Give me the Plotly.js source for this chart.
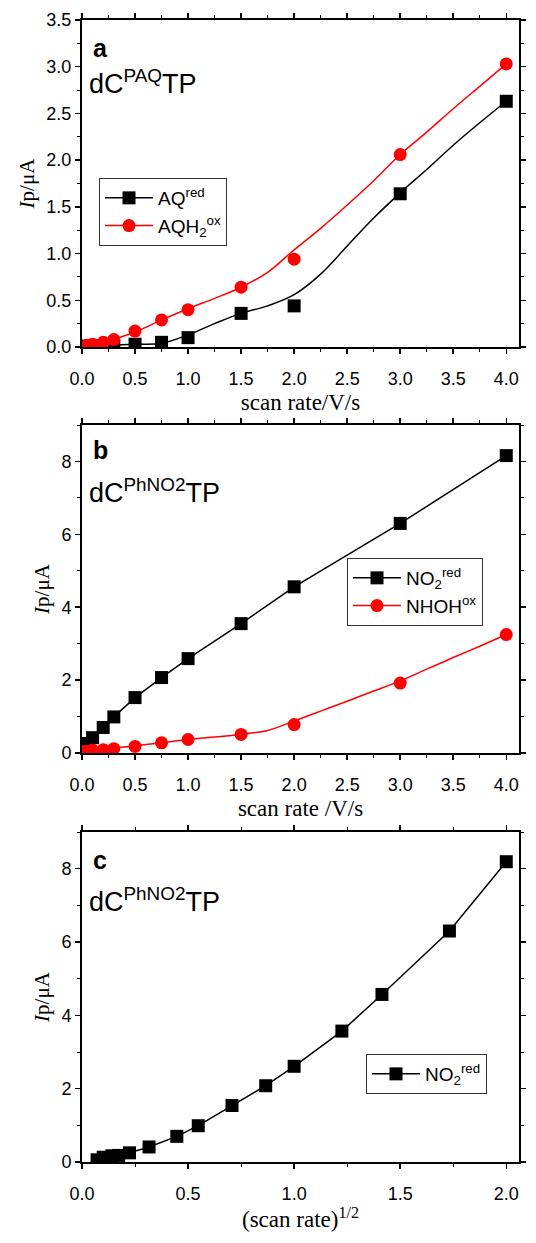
<!DOCTYPE html>
<html><head><meta charset="utf-8">
<script src="https://cdn.plot.ly/plotly-3.0.1.min.js"></script>
<style>html,body{margin:0;padding:0;background:#fff}</style>
</head><body>
<div id="chart" style="width:536px;height:1243px"></div>
<script>
// ---- Panel a data ----
const aScan = [0.05, 0.1, 0.2, 0.3, 0.5, 0.75, 1.0, 1.5, 2.0, 3.0, 4.0];
const aAQred = [0.01, 0.01, 0.01, 0.01, 0.03, 0.05, 0.10, 0.36, 0.44, 1.64, 2.63];
const aAQH2ox = [0.02, 0.03, 0.05, 0.08, 0.17, 0.29, 0.40, 0.64, 0.94, 2.06, 3.03];
const aFitX = [0, 0.25, 0.5, 0.75, 1.0, 1.25, 1.5, 1.75, 2.0, 2.25, 2.5, 2.75, 3.0, 3.25, 3.5, 3.75, 4.0];
const aFitRed = [0.01, 0.02, 0.03, 0.04, 0.13, 0.25, 0.36, 0.44, 0.56, 0.78, 1.08, 1.38, 1.65, 1.90, 2.16, 2.40, 2.63];
const aFitOx = [0.03, 0.07, 0.16, 0.29, 0.41, 0.52, 0.64, 0.80, 1.04, 1.27, 1.52, 1.78, 2.06, 2.30, 2.55, 2.79, 3.03];

// ---- Panel b data ----
const bScan = [0.005, 0.01, 0.02, 0.03, 0.05, 0.1, 0.2, 0.3, 0.5, 0.75, 1.0, 1.5, 2.0, 3.0, 4.0];
const bNO2red = [0.06, 0.13, 0.17, 0.18, 0.26, 0.42, 0.70, 0.99, 1.52, 2.07, 2.59, 3.55, 4.56, 6.30, 8.16];
const bScanOx = [0.01, 0.05, 0.1, 0.2, 0.3, 0.5, 0.75, 1.0, 1.5, 2.0, 3.0, 4.0];
const bNHOHox = [0.04, 0.05, 0.08, 0.09, 0.12, 0.18, 0.28, 0.37, 0.51, 0.78, 1.92, 3.25];
const bFitX = [0, 0.25, 0.5, 0.75, 1.0, 1.25, 1.5, 1.75, 2.0, 2.25, 2.5, 2.75, 3.0, 3.25, 3.5, 3.75, 4.0];
const bFitOx = [0.06, 0.12, 0.20, 0.28, 0.37, 0.44, 0.51, 0.62, 0.88, 1.15, 1.42, 1.70, 1.98, 2.30, 2.62, 2.93, 3.25];

// ---- Panel c data ----
const cSqrtScan = [0.071, 0.1, 0.141, 0.173, 0.224, 0.316, 0.447, 0.548, 0.707, 0.866, 1.0, 1.225, 1.414, 1.732, 2.0];
const cNO2red = [0.06, 0.13, 0.17, 0.18, 0.25, 0.41, 0.70, 0.99, 1.54, 2.08, 2.61, 3.57, 4.57, 6.30, 8.19];

const BLACK = '#000000', RED = '#ff0000';
const sq = {symbol: 'square', size: 13, color: BLACK};
const ci = {symbol: 'circle', size: 13, color: RED};
const lnK = {color: BLACK, width: 1.5};
const lnR = {color: RED, width: 1.5};

const traces = [
  // panel a
  {x: aFitX, y: aFitRed, xaxis: 'x', yaxis: 'y', mode: 'lines', line: Object.assign({shape: 'spline'}, lnK), showlegend: false},
  {x: aFitX, y: aFitOx, xaxis: 'x', yaxis: 'y', mode: 'lines', line: Object.assign({shape: 'spline'}, lnR), showlegend: false},
  {x: aScan, y: aAQred, xaxis: 'x', yaxis: 'y', mode: 'markers', marker: sq, showlegend: false},
  {x: aScan, y: aAQH2ox, xaxis: 'x', yaxis: 'y', mode: 'markers', marker: ci, showlegend: false},
  {x: [null], y: [null], xaxis: 'x', yaxis: 'y', mode: 'lines+markers', marker: sq, line: lnK, name: 'AQ<sup>red</sup>', legend: 'legend'},
  {x: [null], y: [null], xaxis: 'x', yaxis: 'y', mode: 'lines+markers', marker: ci, line: lnR, name: 'AQH<sub>2</sub><sup>ox</sup>', legend: 'legend'},
  // panel b
  {x: bScan, y: bNO2red, xaxis: 'x2', yaxis: 'y2', mode: 'lines+markers', marker: sq, line: lnK, name: 'NO<sub>2</sub><sup>red</sup>', legend: 'legend2'},
  {x: bFitX, y: bFitOx, xaxis: 'x2', yaxis: 'y2', mode: 'lines', line: Object.assign({shape: 'spline'}, lnR), showlegend: false},
  {x: bScanOx, y: bNHOHox, xaxis: 'x2', yaxis: 'y2', mode: 'markers', marker: ci, showlegend: false},
  {x: [null], y: [null], xaxis: 'x2', yaxis: 'y2', mode: 'lines+markers', marker: ci, line: lnR, name: 'NHOH<sup>ox</sup>', legend: 'legend2'},
  // panel c
  {x: cSqrtScan, y: cNO2red, xaxis: 'x3', yaxis: 'y3', mode: 'lines+markers', marker: sq, line: lnK, name: 'NO<sub>2</sub><sup>red</sup>', legend: 'legend3'}
];

const tickFont = {family: 'Liberation Sans, Arial, sans-serif', size: 18, color: '#000'};
const xTitleFont = {family: 'Liberation Serif, Times New Roman, serif', size: 23, color: '#000'};
const yTitleFont = {family: 'Liberation Serif, Times New Roman, serif', size: 21, color: '#000'};
const W = 536, H = 1243;
const xd = [82 / W, 519 / W];
function ydom(top, bottom) { return [(H - bottom) / H, (H - top) / H]; }

function xax(anchor, range, dtick, minor, title) {
  return {
    anchor: anchor, domain: xd, range: range, dtick: dtick, tick0: 0, tickformat: '.1f',
    showline: true, linecolor: '#000', linewidth: 2, mirror: 'ticks',
    ticks: 'outside', ticklen: 5, tickwidth: 1.5, tickcolor: '#000',
    minor: {dtick: minor, ticks: 'outside', ticklen: 3, tickwidth: 1, tickcolor: '#000'},
    showgrid: false, zeroline: false, tickfont: tickFont, ticklabelstandoff: 9,
    title: {text: title, font: xTitleFont, standoff: 6}
  };
}
function yax(anchor, dom, range, dtick, minor, fmt) {
  return {
    anchor: anchor, domain: dom, range: range, dtick: dtick, tick0: 0, tickformat: fmt,
    showline: true, linecolor: '#000', linewidth: 2, mirror: 'ticks',
    ticks: 'outside', ticklen: 5, tickwidth: 1.5, tickcolor: '#000',
    minor: {dtick: minor, ticks: 'outside', ticklen: 3, tickwidth: 1, tickcolor: '#000'},
    showgrid: false, zeroline: false, tickfont: tickFont,
    title: {text: '<i>I</i>p/μA', font: yTitleFont, standoff: 6}
  };
}
const legFont = {family: 'Liberation Sans, Arial, sans-serif', size: 19, color: '#000'};
function leg(x, top) {
  return {x: x, y: (H - top) / H, xref: 'paper', yref: 'paper', xanchor: 'left', yanchor: 'top',
    bgcolor: '#fff', bordercolor: '#333', borderwidth: 1, font: legFont, itemwidth: 48, tracegroupgap: 0};
}
const annFontBig = {family: 'Liberation Sans, Arial, sans-serif', size: 27, color: '#000'};
const annFontLbl = {family: 'Liberation Sans, Arial, sans-serif', size: 25, color: '#000'};
function ann(xr, yr, y1, y2, letter, label) {
  return [
    {xref: xr + ' domain', yref: yr + ' domain', x: 0.02, y: y1, xanchor: 'left', yanchor: 'middle', text: '<b>' + letter + '</b>', showarrow: false, font: annFontLbl},
    {xref: xr + ' domain', yref: yr + ' domain', x: 0.012, y: y2, xanchor: 'left', yanchor: 'middle', text: label, showarrow: false, font: annFontBig}
  ];
}

const layout = {
  width: W, height: H, margin: {l: 0, r: 0, t: 0, b: 0},
  paper_bgcolor: '#fff', plot_bgcolor: '#fff', showlegend: true,
  xaxis: xax('y', [0, 4.12], 0.5, 0.25, 'scan rate/V/s'),
  yaxis: yax('x', ydom(20, 347), [0, 3.5], 0.5, 0.25, '.1f'),
  xaxis2: xax('y2', [0, 4.12], 0.5, 0.25, 'scan rate /V/s'),
  yaxis2: yax('x2', ydom(425, 753), [0, 9], 2, 1, 'd'),
  xaxis3: xax('y3', [0, 2.06], 0.5, 0.25, '(scan rate)<sup>1/2</sup>'),
  yaxis3: yax('x3', ydom(832, 1162), [0, 9], 2, 1, 'd'),
  legend: leg(99 / W, 178),
  legend2: leg(347 / W, 558),
  legend3: leg(366 / W, 1054),
  annotations: [].concat(
    ann('x', 'y', 0.915, 0.81, 'a', 'dC<sup>PAQ</sup>TP'),
    ann('x2', 'y2', 0.924, 0.80, 'b', 'dC<sup>PhNO2</sup>TP'),
    ann('x3', 'y3', 0.915, 0.794, 'c', 'dC<sup>PhNO2</sup>TP')
  )
};

Plotly.newPlot('chart', traces, layout, {displayModeBar: false, staticPlot: true});
</script>
</body></html>
